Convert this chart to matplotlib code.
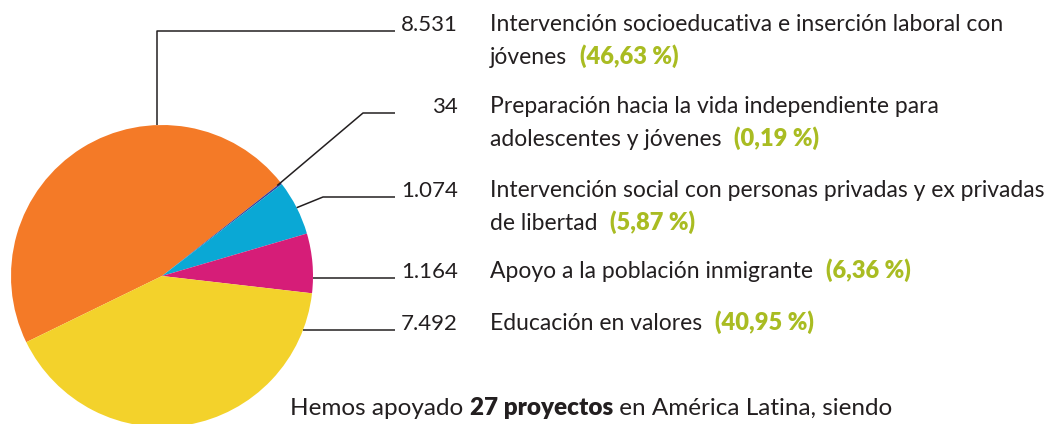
import numpy as np
import matplotlib
matplotlib.use('Agg')
from matplotlib import pyplot as plt

# datos
valores = [8531, 34, 1074, 1164, 7492]
numeros = ['8.531', '34', '1.074', '1.164', '7.492']
porcentajes = ['(46,63 %)', '(0,19 %)', '(5,87 %)', '(6,36 %)', '(40,95 %)']
etiquetas = [
    ['Intervención socioeducativa e inserción laboral con', 'jóvenes'],
    ['Preparación hacia la vida independiente para', 'adolescentes y jóvenes'],
    ['Intervención social con personas privadas y ex privadas', 'de libertad'],
    ['Apoyo a la población inmigrante'],
    ['Educación en valores'],
]
colores = ['#F47A27', '#3B3F9A', '#0AA8D5', '#D61D78', '#F3D22B']

W, H = 1061, 424
texto = '#231F20'
verde = '#A9BC22'
fuente = 'Lato'
tam = 16.5

fig = plt.figure(figsize=(W / 100, H / 100), dpi=100)
ax = fig.add_axes([0, 0, 1, 1])

cx, cy, r = 162, H - 276, 151
wedges, _ = ax.pie(valores, colors=colores, startangle=206, counterclock=False,
                   center=(cx, cy), radius=r,
                   wedgeprops=dict(linewidth=0))
ax.set_xlim(0, W)
ax.set_ylim(0, H)
ax.axis('off')

# filas (linea base en pixeles desde arriba)
filas = [31, 113, 197, 278, 330]
interlinea = 33
x_linea = 395
x_num = 458
x_txt = 490


def punto(ang):
    a = np.radians(ang)
    return cx + r * np.cos(a), cy + r * np.sin(a)


def borde_horizontal(y):
    dy = y - cy
    return cx + np.sqrt(r ** 2 - dy ** 2)


for i, w in enumerate(wedges):
    yf = H - filas[i]
    mid = (w.theta1 + w.theta2) / 2
    if i == 0:
        px, py = punto(92)
        xs, ys = [px, px, x_linea], [py, yf, yf]
    elif i == 1:
        px, py = punto(w.theta2)
        xs, ys = [cx + (px - cx) * 0.97, 363, x_linea], [cy + (py - cy) * 0.97, yf, yf]
    elif i == 2:
        px, py = punto(mid)
        xs, ys = [px, 323, x_linea], [py, yf, yf]
    else:
        xs, ys = [borde_horizontal(yf), x_linea], [yf, yf]
    ax.plot(xs, ys, color=texto, lw=1.1, solid_capstyle='butt')

renderer = fig.canvas.get_renderer()
for i in range(len(valores)):
    yb = H - filas[i]
    ax.text(x_num, yb, numeros[i], ha='right', va='baseline', fontsize=16,
            family=fuente, color=texto)
    lineas = etiquetas[i]
    t = None
    for j, linea in enumerate(lineas):
        t = ax.text(x_txt, yb - j * interlinea, linea, ha='left', va='baseline',
                    fontsize=tam, family=fuente, color=texto)
    bb = t.get_window_extent(renderer)
    ax.text(bb.x1 + 13, yb - (len(lineas) - 1) * interlinea, porcentajes[i],
            ha='left', va='baseline', fontsize=17, family=fuente,
            fontweight='heavy', color=verde)

# texto inferior
partes = [('Hemos apoyado ', 'normal'), ('27 proyectos', 'heavy'),
          (' en América Latina, siendo', 'normal')]
x = 290
for s, peso in partes:
    t = ax.text(x, H - 415, s, ha='left', va='baseline', fontsize=17.5,
                family=fuente, fontweight=peso, color=texto)
    x = t.get_window_extent(renderer).x1

fig.savefig('out.png', dpi=100)
